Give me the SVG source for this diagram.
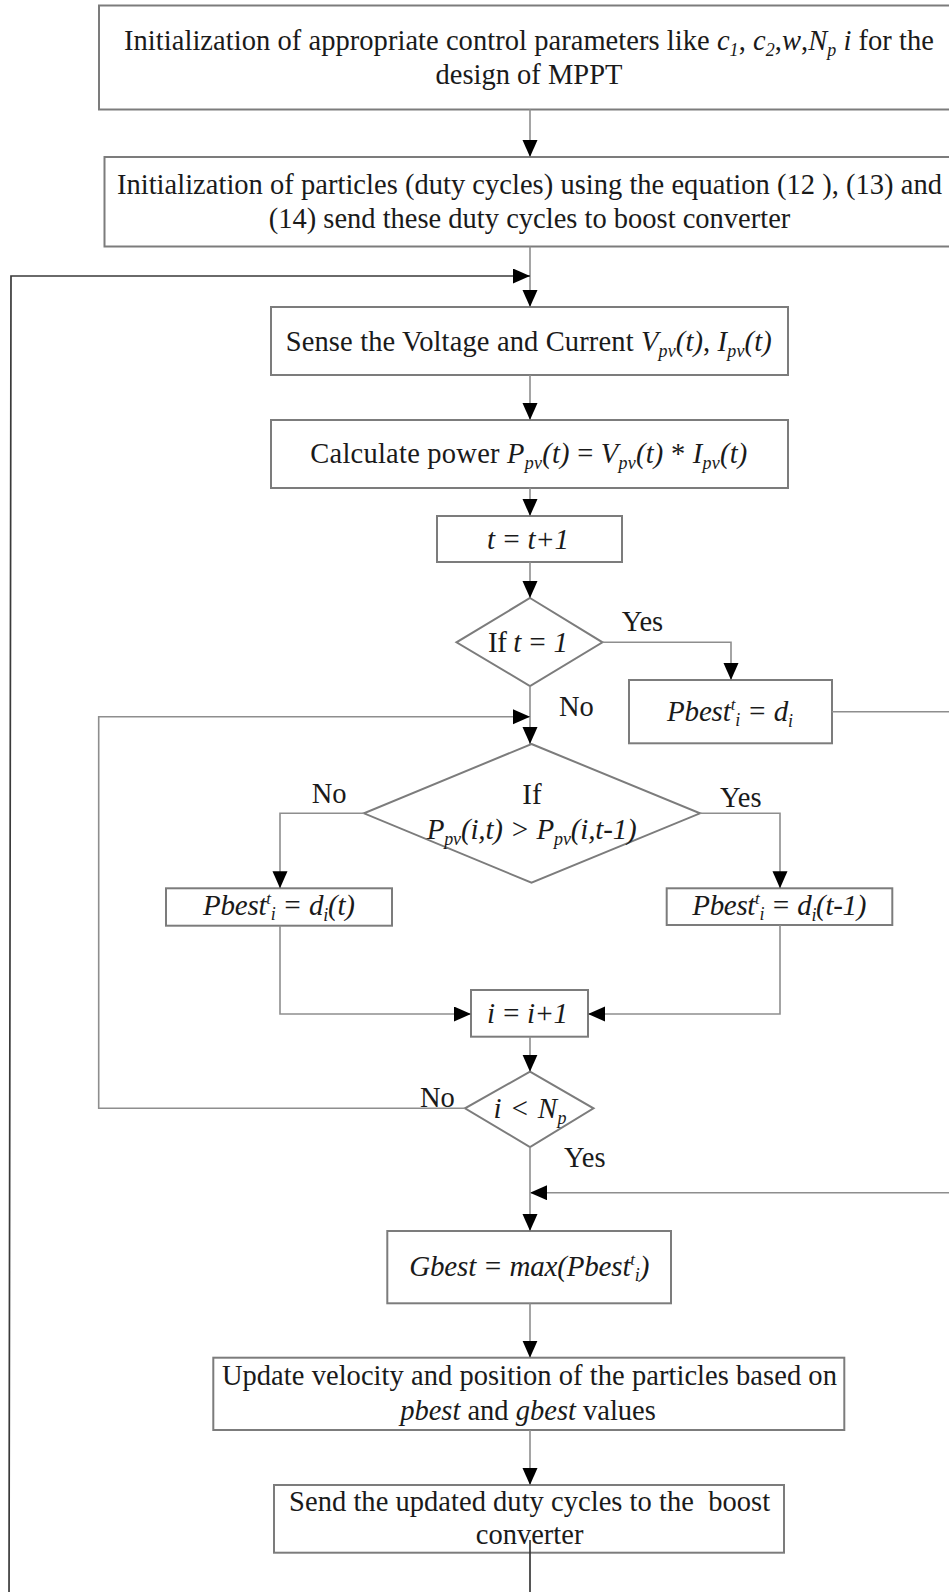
<svg xmlns="http://www.w3.org/2000/svg" width="949" height="1592" viewBox="0 0 949 1592">
<style>
.box{fill:#fff;stroke:#7c7c7c;stroke-width:2}
.con{fill:none;stroke:#8e8e8e;stroke-width:1.6}
.loop{fill:none;stroke:#3a3a3a;stroke-width:1.7}
text{font-family:"Liberation Serif","Times New Roman",serif;font-size:28.5px;fill:#1a1a1a}
.m{text-anchor:middle}
.f{font-size:29px}
.i{font-style:italic}
.sub{font-size:18px}
.sup{font-size:17px}
</style>
<defs>
<marker id="ah" markerUnits="userSpaceOnUse" markerWidth="18" markerHeight="16" refX="17" refY="7.5" orient="auto">
<path d="M0,0 L17,7.5 L0,15 z" fill="#000"/>
</marker>
</defs>
<rect width="949" height="1592" fill="#fff"/>

<g id="n1">
<rect class="box" x="99" y="5.5" width="865" height="104"/>
<text class="m" x="529" y="50" textLength="810">Initialization of appropriate control parameters like <tspan class="i">c</tspan><tspan class="sub i" dy="6">1</tspan><tspan dy="-6">, </tspan><tspan class="i">c</tspan><tspan class="sub i" dy="6">2</tspan><tspan dy="-6">,</tspan><tspan class="i">w</tspan>,<tspan class="i">N</tspan><tspan class="sub i" dy="6">p</tspan><tspan class="i" dy="-6"> i</tspan> for the</text>
<text class="m" x="529" y="84">design of MPPT</text>
</g>

<g id="n2">
<rect class="box" x="104.5" y="157" width="860" height="89.5"/>
<text class="m" x="529.4" y="193.5" textLength="825">Initialization of particles (duty cycles) using the equation (12 ), (13) and</text>
<text class="m" x="529.5" y="227.5">(14) send these duty cycles to boost converter</text>
</g>

<g id="n3">
<rect class="box" x="271" y="307" width="517" height="68"/>
<text class="m" x="528.7" y="350.5" textLength="486">Sense the Voltage and Current <tspan class="i">V</tspan><tspan class="sub i" dy="6">pv</tspan><tspan class="i" dy="-6">(t)</tspan>, <tspan class="i">I</tspan><tspan class="sub i" dy="6">pv</tspan><tspan class="i" dy="-6">(t)</tspan></text>
</g>

<g id="n4">
<rect class="box" x="271" y="420" width="517" height="68"/>
<text class="m" x="528.8" y="463" textLength="437">Calculate power <tspan class="i">P</tspan><tspan class="sub i" dy="6">pv</tspan><tspan class="i" dy="-6">(t)</tspan> =  <tspan class="i">V</tspan><tspan class="sub i" dy="6">pv</tspan><tspan class="i" dy="-6">(t)</tspan> * <tspan class="i">I</tspan><tspan class="sub i" dy="6">pv</tspan><tspan class="i" dy="-6">(t)</tspan></text>
</g>

<g id="n5">
<rect class="box" x="437" y="516" width="185" height="46"/>
<text class="m i f" x="528" y="548.5" textLength="82">t = t+1</text>
</g>

<g id="d1">
<polygon class="box" points="530,598 602.5,642.3 530,686 456.5,642.3"/>
<text class="m f" x="528" y="651.5" textLength="80">If <tspan class="i">t = 1</tspan></text>
</g>

<g id="n6">
<rect class="box" x="629" y="680" width="203" height="63.3"/>
<text class="m i f" x="730" y="721" textLength="126">Pbest<tspan class="sup" dy="-11">t</tspan><tspan class="sub" dy="16">i</tspan><tspan dy="-5"> = d</tspan><tspan class="sub" dy="6">i</tspan></text>
</g>

<g id="d2">
<polygon class="box" points="531.5,744 700,813.3 531.5,882.7 364,813.3"/>
<text class="m f" x="532" y="803.5">If</text>
<text class="m i f" x="531.7" y="838.5" textLength="210">P<tspan class="sub" dy="6">pv</tspan><tspan dy="-6">(i,t) &gt; P</tspan><tspan class="sub" dy="6">pv</tspan><tspan dy="-6">(i,t-1)</tspan></text>
</g>

<g id="n7">
<rect class="box" x="166" y="888.3" width="226" height="37.4"/>
<text class="m i f" x="279" y="915" textLength="152">Pbest<tspan class="sup" dy="-11">t</tspan><tspan class="sub" dy="16">i</tspan><tspan dy="-5"> = d</tspan><tspan class="sub" dy="6">i</tspan><tspan dy="-6">(t)</tspan></text>
</g>

<g id="n8">
<rect class="box" x="666.7" y="888.3" width="225.6" height="36.7"/>
<text class="m i f" x="779.3" y="915" textLength="174">Pbest<tspan class="sup" dy="-11">t</tspan><tspan class="sub" dy="16">i</tspan><tspan dy="-5"> = d</tspan><tspan class="sub" dy="6">i</tspan><tspan dy="-6">(t-1)</tspan></text>
</g>

<g id="n9">
<rect class="box" x="471" y="990" width="117" height="46.7"/>
<text class="m i f" x="527.5" y="1022.5" textLength="81">i = i+1</text>
</g>

<g id="d3">
<polygon class="box" points="530,1071.7 593.5,1108.3 530,1147 465,1108.3"/>
<text class="m i f" x="530" y="1117.5" textLength="73">i &lt; N<tspan class="sub" dy="6">p</tspan></text>
</g>

<g id="n10">
<rect class="box" x="387.3" y="1231" width="283.7" height="72.3"/>
<text class="m i f" x="529.3" y="1276" textLength="240">Gbest = max(Pbest<tspan class="sup" dy="-11">t</tspan><tspan class="sub" dy="16">i</tspan><tspan dy="-5">)</tspan></text>
</g>

<g id="n11">
<rect class="box" x="213.3" y="1357.7" width="631" height="72.3"/>
<text class="m" x="529.4" y="1384.5" textLength="615">Update velocity and position of the particles based on</text>
<text class="m" x="528" y="1419.5"><tspan class="i">pbest</tspan> and <tspan class="i">gbest</tspan> values</text>
</g>

<g id="n12">
<rect class="box" x="274" y="1485" width="510" height="67.7"/>
<text class="m" x="529.6" y="1511" textLength="481">Send the updated duty cycles to the&#160; boost</text>
<text class="m" x="529.6" y="1543.5">converter</text>
</g>

<g id="connectors">
<path class="con" d="M530,109.3 V157" marker-end="url(#ah)"/>
<path class="con" d="M530,246.5 V307" marker-end="url(#ah)"/>
<path class="loop" d="M530,1540 V1610 H9 L11,276 H530" marker-end="url(#ah)"/>
<path class="con" d="M530,375 V420" marker-end="url(#ah)"/>
<path class="con" d="M530,487.7 V516" marker-end="url(#ah)"/>
<path class="con" d="M530,561.7 V598" marker-end="url(#ah)"/>
<path class="con" d="M602.5,642.3 H731 V680" marker-end="url(#ah)"/>
<path class="con" d="M530,686 V744" marker-end="url(#ah)"/>
<path class="con" d="M831.7,711.7 H965 V1192.7 H530" marker-end="url(#ah)"/>
<path class="con" d="M364,813.3 H280 V888.3" marker-end="url(#ah)"/>
<path class="con" d="M700,813.3 H780 V888.3" marker-end="url(#ah)"/>
<path class="con" d="M280,925.7 V1014 H471" marker-end="url(#ah)"/>
<path class="con" d="M780,925 V1014 H588" marker-end="url(#ah)"/>
<path class="con" d="M530,1036.7 V1071.7" marker-end="url(#ah)"/>
<path class="con" d="M465,1108.3 H98.7 V716.7 H530" marker-end="url(#ah)"/>
<path class="con" d="M530,1147 V1231" marker-end="url(#ah)"/>
<path class="con" d="M530,1303.3 V1357.7" marker-end="url(#ah)"/>
<path class="con" d="M530,1430 V1485" marker-end="url(#ah)"/>
</g>

<g id="labels">
<text x="621.7" y="630.7" font-size="27px">Yes</text>
<text x="559" y="716" font-size="27px">No</text>
<text x="311.7" y="803" font-size="27px">No</text>
<text x="720" y="806.7" font-size="27px">Yes</text>
<text x="420" y="1107" font-size="27px">No</text>
<text x="564" y="1167" font-size="27px">Yes</text>
</g>
</svg>
